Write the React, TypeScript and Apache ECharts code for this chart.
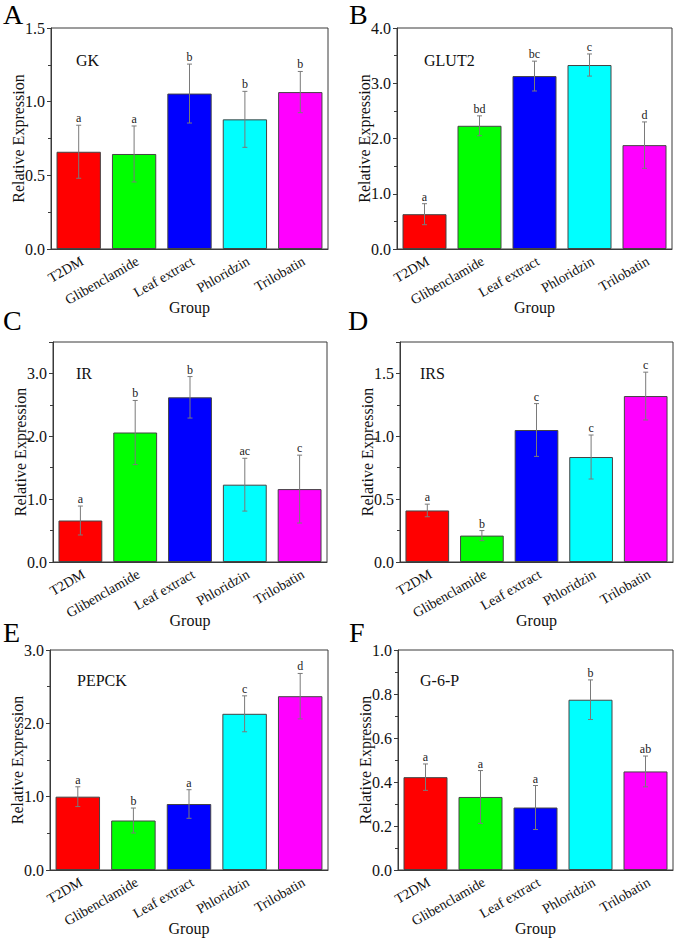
import React, { useEffect, useRef } from 'react';
import * as echarts from 'echarts';

const categories = ['T2DM', 'Glibenclamide', 'Leaf extract', 'Phloridzin', 'Trilobatin'];
const barColors = ['#FF0000', '#00FF00', '#0000FF', '#00FFFF', '#FF00FF'];

const gkMean = [0.66, 0.645, 1.055, 0.88, 1.065];
const gkErr = [0.18, 0.19, 0.2, 0.19, 0.14];
const gkSig = ['a', 'a', 'b', 'b', 'b'];

const glut2Mean = [0.63, 2.23, 3.13, 3.33, 1.88];
const glut2Err = [0.19, 0.18, 0.27, 0.2, 0.42];
const glut2Sig = ['a', 'bd', 'bc', 'c', 'd'];

const irMean = [0.66, 2.06, 2.62, 1.23, 1.16];
const irErr = [0.23, 0.51, 0.33, 0.42, 0.54];
const irSig = ['a', 'b', 'b', 'ac', 'c'];

const irsMean = [0.41, 0.21, 1.05, 0.835, 1.32];
const irsErr = [0.05, 0.04, 0.21, 0.175, 0.19];
const irsSig = ['a', 'b', 'c', 'c', 'c'];

const pepckMean = [1.0, 0.675, 0.9, 2.13, 2.37];
const pepckErr = [0.135, 0.17, 0.195, 0.245, 0.31];
const pepckSig = ['a', 'b', 'a', 'c', 'd'];

const g6pMean = [0.422, 0.332, 0.284, 0.774, 0.448];
const g6pErr = [0.06, 0.12, 0.1, 0.09, 0.07];
const g6pSig = ['a', 'a', 'a', 'b', 'ab'];

const FONT = "'Liberation Serif', 'Times New Roman', serif";

const panels = [
  { letter: 'A', gene: 'GK', mean: gkMean, err: gkErr, sig: gkSig, max: 1.5, interval: 0.5,
    grid: { left: 51, top: 28, width: 277, height: 221 }, letterPos: [3, 0], genePos: [25, 24] },
  { letter: 'B', gene: 'GLUT2', mean: glut2Mean, err: glut2Err, sig: glut2Sig, max: 4, interval: 1,
    grid: { left: 397, top: 28, width: 275, height: 221 }, letterPos: [349, 0], genePos: [27, 24] },
  { letter: 'C', gene: 'IR', mean: irMean, err: irErr, sig: irSig, max: 3.5, interval: 1,
    grid: { left: 53, top: 342, width: 274, height: 220 }, letterPos: [3, 306], genePos: [23, 23] },
  { letter: 'D', gene: 'IRS', mean: irsMean, err: irsErr, sig: irsSig, max: 1.75, interval: 0.5,
    grid: { left: 400, top: 342, width: 273, height: 220 }, letterPos: [348, 306], genePos: [20, 23] },
  { letter: 'E', gene: 'PEPCK', mean: pepckMean, err: pepckErr, sig: pepckSig, max: 3, interval: 1,
    grid: { left: 50, top: 650, width: 278, height: 220 }, letterPos: [3, 618], genePos: [27, 22] },
  { letter: 'F', gene: 'G-6-P', mean: g6pMean, err: g6pErr, sig: g6pSig, max: 1, interval: 0.2,
    grid: { left: 398, top: 650, width: 275, height: 220 }, letterPos: [349, 618], genePos: [22, 22] },
];

export default function App() {
  const ref = useRef<HTMLDivElement>(null);
  useEffect(() => {
    if (!ref.current) return;
    const chart = echarts.init(ref.current, null, { renderer: 'svg' });
    const axisColor = '#3a3a3a';
    const grids: any[] = [];
    const xAxes: any[] = [];
    const yAxes: any[] = [];
    const series: any[] = [];
    const graphics: any[] = [];

    panels.forEach((p, k) => {
      grids.push({ ...p.grid, show: true, borderColor: axisColor, borderWidth: 1, backgroundColor: 'transparent' });
      xAxes.push({
        type: 'category', gridIndex: k, data: categories,
        name: 'Group', nameLocation: 'middle', nameGap: 50, nameMoveOverlap: false,
        nameTextStyle: { fontFamily: FONT, fontSize: 16, color: '#111' },
        axisLine: { lineStyle: { color: axisColor, width: 1 } },
        axisTick: { alignWithLabel: true, length: 4, lineStyle: { color: axisColor } },
        axisLabel: {
          rotate: 30, margin: 5, verticalAlign: 'top', fontFamily: FONT, fontSize: 14,
          color: '#111', interval: 0,
        },
      });
      yAxes.push({
        type: 'value', gridIndex: k, min: 0, max: p.max, interval: p.interval,
        name: 'Relative Expression', nameLocation: 'middle', nameGap: 25, nameRotate: 90, nameMoveOverlap: false,
        nameTextStyle: { fontFamily: FONT, fontSize: 16, color: '#111' },
        axisLine: { show: true, lineStyle: { color: axisColor, width: 1 } },
        axisTick: { show: true, length: 4, lineStyle: { color: axisColor } },
        minorTick: { show: true, splitNumber: 2, length: 3, lineStyle: { color: axisColor } },
        splitLine: { show: false },
        axisLabel: {
          margin: 6, fontFamily: FONT, fontSize: 16, color: '#111',
          showMaxLabel: Math.abs(p.max / p.interval - Math.round(p.max / p.interval)) < 1e-6,
          formatter: (v: number) => v.toFixed(1),
        },
      });
      series.push({
        type: 'bar', xAxisIndex: k, yAxisIndex: k, barWidth: '80%',
        data: p.mean.map((m, i) => ({
          value: m,
          itemStyle: { color: barColors[i], borderColor: '#444', borderWidth: 1 },
        })),
      });
      const sig = p.sig;
      series.push({
        type: 'custom', xAxisIndex: k, yAxisIndex: k, z: 5,
        encode: { x: 0, y: 1 },
        data: p.mean.map((m, i) => [i, m, p.err[i]]),
        renderItem: (params: any, api: any) => {
          const i = api.value(0);
          const m = api.value(1);
          const e = api.value(2);
          const t = api.coord([i, m + e]);
          const b = api.coord([i, m - e]);
          const h = 2.5;
          const ls = { stroke: '#7a7a7a', lineWidth: 1 };
          return {
            type: 'group',
            children: [
              { type: 'line', shape: { x1: t[0], y1: t[1], x2: b[0], y2: b[1] }, style: ls },
              { type: 'line', shape: { x1: t[0] - h, y1: t[1], x2: t[0] + h, y2: t[1] }, style: ls },
              { type: 'line', shape: { x1: b[0] - h, y1: b[1], x2: b[0] + h, y2: b[1] }, style: ls },
              {
                type: 'text',
                style: {
                  text: sig[i], x: t[0], y: t[1] - 1, align: 'center', verticalAlign: 'bottom',
                  fontFamily: FONT, fontSize: 12, fill: '#222',
                },
              },
            ],
          };
        },
      });
      graphics.push({
        type: 'text', left: p.letterPos[0], top: p.letterPos[1],
        style: { text: p.letter, fontFamily: FONT, fontSize: 28, fill: '#000' },
      });
      graphics.push({
        type: 'text', left: p.grid.left + p.genePos[0], top: p.grid.top + p.genePos[1],
        style: { text: p.gene, fontFamily: FONT, fontSize: 16, fill: '#111' },
      });
    });

    chart.setOption({
      animation: false,
      backgroundColor: '#ffffff',
      textStyle: { fontFamily: FONT },
      grid: grids,
      xAxis: xAxes,
      yAxis: yAxes,
      series,
      graphic: graphics,
    });
    return () => chart.dispose();
  }, []);
  return (
    <div
      ref={ref}
      style={{ position: 'absolute', left: 0, top: 0, width: 678, height: 939 }}
    />
  );
}
